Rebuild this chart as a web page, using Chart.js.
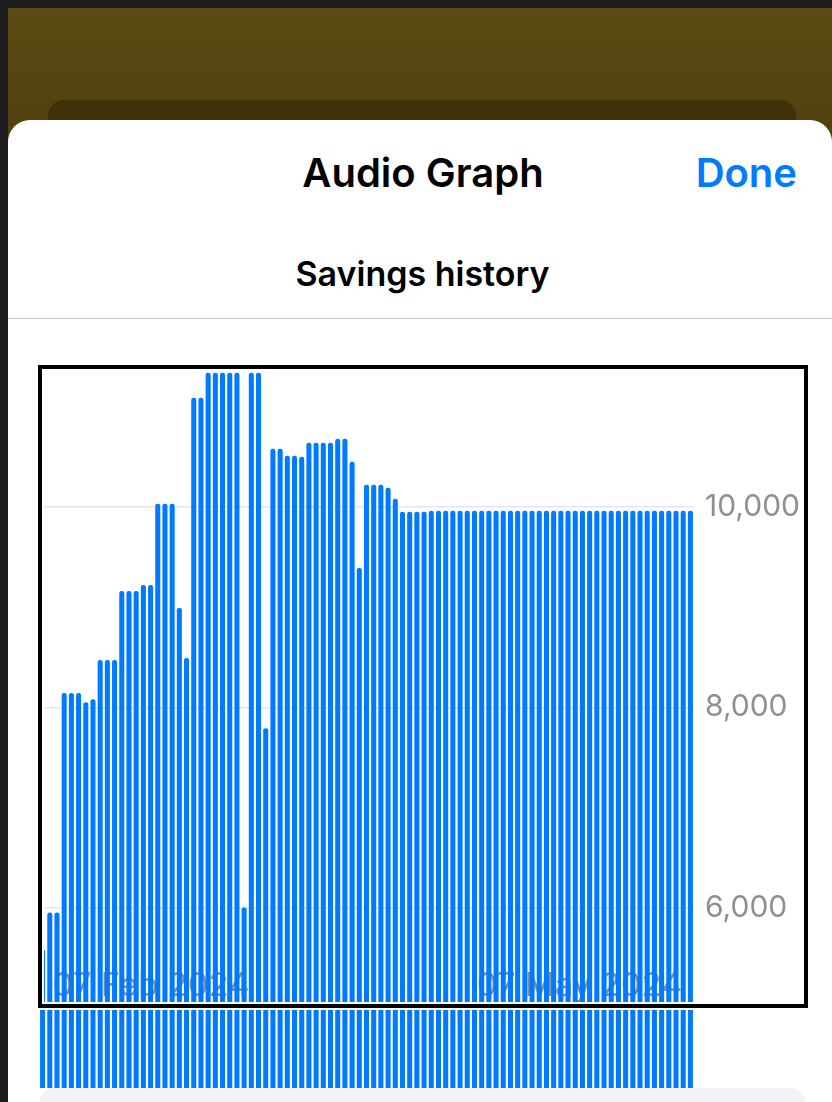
<!DOCTYPE html>
<html>
<head>
<meta charset="utf-8">
<script src="https://cdn.jsdelivr.net/npm/chart.js@4.4.1/dist/chart.umd.min.js"></script>
<style>
  html, body { margin:0; padding:0; }
  body { width:832px; height:1102px; background:#1d1d1f; position:relative; overflow:hidden; font-family:Inter, "Noto Sans", sans-serif; }
  .olive { position:absolute; left:8px; top:8px; width:824px; height:200px; background:linear-gradient(180deg,#5a4a14 0%,#52430f 50%,#4a3c0c 100%); }
  .olive-card { position:absolute; left:48px; top:100px; width:748px; height:80px; border-radius:16px; background:#3f3209; }
  .sheet { position:absolute; left:8px; top:120px; width:824px; height:1000px; background:#fff; border-radius:22px 22px 0 0; }
  .t { position:absolute; line-height:1; white-space:nowrap; color:#000; }
  .title { left:0; width:846px; text-align:center; top:153px; font-size:40px; font-weight:600; }
  .done { right:35px; top:153px; font-size:40px; font-weight:600; color:#007aff; }
  .sub { left:0; width:845px; text-align:center; top:257px; font-size:34px; font-weight:600; }
  .sep { position:absolute; left:8px; top:318px; width:824px; height:1px; background:#c6c6c8; }
  canvas { position:absolute; left:0; top:0; }
  .frame { position:absolute; left:38px; top:365px; width:762px; height:635px; border:4.5px solid #000; box-shadow:0 0 0 2px #fff, inset 0 0 0 2px #fff; }
  .panel { position:absolute; left:40px; top:1088px; width:765px; height:60px; border-radius:14px; background:#f2f2f7; }
</style>
</head>
<body>
<div class="olive"></div>
<div class="olive-card"></div>
<div class="sheet"></div>
<div class="t title">Audio Graph</div>
<div class="t done">Done</div>
<div class="t sub">Savings history</div>
<div class="sep"></div>
<canvas id="c" width="832" height="1102"></canvas>
<div class="frame"></div>
<div class="panel"></div>
<script>
const categories = [
  "07 Feb 2024","08 Feb 2024","09 Feb 2024","10 Feb 2024","11 Feb 2024","12 Feb 2024","13 Feb 2024","14 Feb 2024","15 Feb 2024","16 Feb 2024",
  "17 Feb 2024","18 Feb 2024","19 Feb 2024","20 Feb 2024","21 Feb 2024","22 Feb 2024","23 Feb 2024","24 Feb 2024","25 Feb 2024","26 Feb 2024",
  "27 Feb 2024","28 Feb 2024","29 Feb 2024",
  "01 Mar 2024","02 Mar 2024","03 Mar 2024","04 Mar 2024","05 Mar 2024","06 Mar 2024","07 Mar 2024","08 Mar 2024","09 Mar 2024","10 Mar 2024",
  "11 Mar 2024","12 Mar 2024","13 Mar 2024","14 Mar 2024","15 Mar 2024","16 Mar 2024","17 Mar 2024","18 Mar 2024","19 Mar 2024","20 Mar 2024",
  "21 Mar 2024","22 Mar 2024","23 Mar 2024","24 Mar 2024","25 Mar 2024","26 Mar 2024","27 Mar 2024","28 Mar 2024","29 Mar 2024","30 Mar 2024","31 Mar 2024",
  "01 Apr 2024","02 Apr 2024","03 Apr 2024","04 Apr 2024","05 Apr 2024","06 Apr 2024","07 Apr 2024","08 Apr 2024","09 Apr 2024","10 Apr 2024",
  "11 Apr 2024","12 Apr 2024","13 Apr 2024","14 Apr 2024","15 Apr 2024","16 Apr 2024","17 Apr 2024","18 Apr 2024","19 Apr 2024","20 Apr 2024",
  "21 Apr 2024","22 Apr 2024","23 Apr 2024","24 Apr 2024","25 Apr 2024","26 Apr 2024","27 Apr 2024","28 Apr 2024","29 Apr 2024","30 Apr 2024",
  "01 May 2024","02 May 2024","03 May 2024","04 May 2024","05 May 2024","06 May 2024","07 May 2024"
];
const savings = [
  5580, 5950, 5950, 8140, 8140, 8140, 8050, 8080, 8470, 8470,
  8470, 9160, 9160, 9160, 9220, 9220, 10030, 10030, 10030, 8990,
  8490, 11090, 11090, 11340, 11340, 11340, 11340, 11340, 6000, 11340,
  11340, 7790, 10580, 10580, 10510, 10510, 10500, 10640, 10640, 10640,
  10640, 10680, 10680, 10450, 9390, 10220, 10220, 10220, 10190, 10080,
  9950, 9950, 9950, 9950, 9960, 9960, 9960, 9960, 9960, 9960,
  9960, 9960, 9960, 9960, 9960, 9960, 9960, 9960, 9960, 9960,
  9960, 9960, 9960, 9960, 9960, 9960, 9960, 9960, 9960, 9960,
  9960, 9960, 9960, 9960, 9960, 9960, 9960, 9960, 9960, 9960,
  9960
];
const yTickValues = [6000, 8000, 10000];
const yTickLabels = ["6,000", "8,000", "10,000"];
const xShownLabels = ["07 Feb 2024", "07 May 2024"];

const grey = '#8e8e93';
const xLabelFont = { family: 'Inter', size: 33 };

function flatX(s) { s.height = 0; s.paddingLeft = 0; s.paddingRight = 0; s.paddingTop = 0; s.paddingBottom = 0; }

new Chart(document.getElementById('c'), {
  type: 'bar',
  data: {
    labels: categories,
    datasets: [{
      data: savings,
      xAxisID: 'x',
      yAxisID: 'y',
      backgroundColor: '#007aff',
      borderWidth: 0,
      barThickness: 4.4,
      borderRadius: { topLeft: 2.2, topRight: 2.2, bottomLeft: 0, bottomRight: 0 },
      borderSkipped: 'start'
    }]
  },
  options: {
    responsive: false,
    animation: false,
    events: [],
    layout: { padding: { left: 39, top: 367, right: 32, bottom: 14 } },
    plugins: { legend: { display: false }, tooltip: { enabled: false } },
    scales: {
      x: {
        type: 'category',
        offset: true,
        grid: { display: false },
        border: { display: false },
        ticks: {
          autoSkip: false, maxRotation: 0, minRotation: 0, mirror: true,
          align: 'start', labelOffset: 10, padding: 82,
          color: grey, font: xLabelFont,
          callback: (v, i) => categories[i] === xShownLabels[0] ? xShownLabels[0] : ''
        },
        afterFit: flatX
      },
      x2: {
        type: 'category',
        position: 'bottom',
        offset: true,
        grid: { display: false },
        border: { display: false },
        ticks: {
          autoSkip: false, maxRotation: 0, minRotation: 0, mirror: true,
          align: 'end', labelOffset: -8, padding: 82,
          color: grey, font: xLabelFont,
          callback: (v, i) => categories[i] === xShownLabels[1] ? xShownLabels[1] : ''
        },
        afterFit: flatX
      },
      y: {
        position: 'right',
        min: 4200,
        max: 11400,
        grid: { color: '#e5e5ea', lineWidth: 1.5, drawTicks: false },
        border: { display: false },
        ticks: {
          padding: 11, color: grey,
          font: { family: 'Inter', size: 30 },
          callback: (v) => { const k = yTickValues.indexOf(v); return k >= 0 ? yTickLabels[k] : ''; }
        },
        afterBuildTicks: (s) => { s.ticks = yTickValues.map(v => ({ value: v })); },
        afterFit: (s) => { s.width = 106; s.paddingTop = 0; s.paddingBottom = 0; }
      }
    }
  }
});
</script>
</body>
</html>
